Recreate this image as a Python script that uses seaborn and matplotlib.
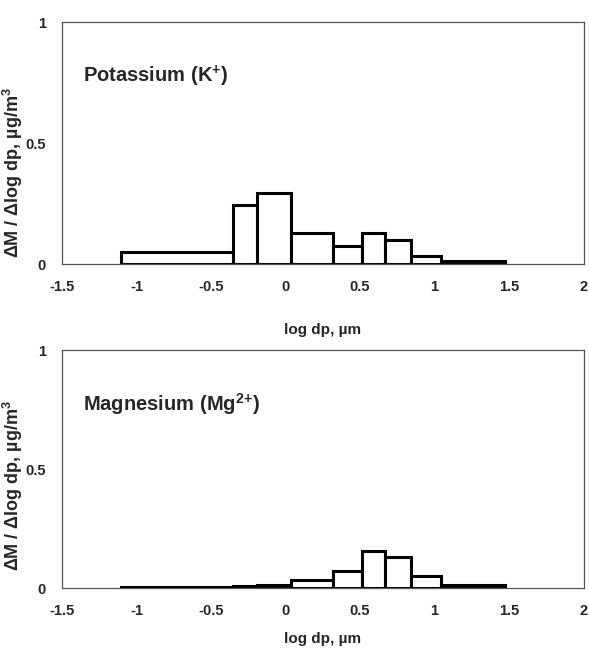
import matplotlib
matplotlib.use("Agg")
import matplotlib.pyplot as plt
import seaborn as sns

# bin edges (log dp) and bar heights
bin_edges = [-1.1, -0.35, -0.19, 0.04, 0.32, 0.51, 0.67, 0.84, 1.04, 1.47]
potassium = [0.051, 0.246, 0.295, 0.130, 0.076, 0.127, 0.100, 0.034, 0.012]
magnesium = [0.004, 0.010, 0.015, 0.035, 0.070, 0.157, 0.130, 0.049, 0.013]

panel_titles = [r"Potassium (K$^{+}$)", r"Magnesium (Mg$^{2}$$^{+}$)"]
x_ticks = [-1.5, -1, -0.5, 0, 0.5, 1, 1.5, 2]
x_tick_labels = ["-1.5", "-1", "-0.5", "0", "0.5", "1", "1.5", "2"]
y_ticks = [0, 0.5, 1]
y_tick_labels = ["0", "0.5", "1"]

sns.set_style("white")
plt.rcParams["font.family"] = ["Liberation Sans", "DejaVu Sans"]
plt.rcParams["font.weight"] = "bold"
plt.rcParams["mathtext.fontset"] = "custom"
plt.rcParams["mathtext.rm"] = "Liberation Sans:bold"
plt.rcParams["mathtext.it"] = "Liberation Sans:bold"
plt.rcParams["mathtext.bf"] = "Liberation Sans:bold"

fig = plt.figure(figsize=(5.89, 6.52), dpi=100)
ax_top = fig.add_axes([0.105, 0.595, 0.886, 0.371])
ax_bot = fig.add_axes([0.105, 0.098, 0.886, 0.365])

centers = [(a + b) / 2 for a, b in zip(bin_edges[:-1], bin_edges[1:])]

# x label pad and y label height differ a bit between the two panels
xlabel_pads = [21, 10]
ylabel_ys = [0.38, 0.43]

for ax, values, title, xpad, ly in zip([ax_top, ax_bot], [potassium, magnesium],
                                       panel_titles, xlabel_pads, ylabel_ys):
    sns.histplot(x=centers, weights=values, bins=bin_edges, stat="count",
                 color="white", edgecolor="black", linewidth=2.2, alpha=1,
                 ax=ax)
    ax.set_xlim(-1.5, 2)
    ax.set_ylim(0, 1)
    ax.set_xticks(x_ticks)
    ax.set_xticklabels(x_tick_labels, fontsize=10.5, fontweight="bold")
    ax.set_yticks(y_ticks)
    ax.set_yticklabels(y_tick_labels, fontsize=10.5, fontweight="bold")
    ax.tick_params(direction="inout", length=7, width=0.8, color="#555555", pad=8)
    for sp in ax.spines.values():
        sp.set_visible(True)
        sp.set_color("#555555")
        sp.set_linewidth(0.9)
    ax.set_xlabel("log dp, µm", fontsize=11, fontweight="bold", labelpad=xpad)
    ax.set_ylabel(r"ΔM / Δlog dp, µg/m$^{3}$", fontsize=13, fontweight="bold")
    ax.yaxis.set_label_coords(-0.071, ly)
    ax.text(0.04, 0.775, title, transform=ax.transAxes, fontsize=14.5,
            fontweight="bold", va="center", ha="left")

fig.savefig("out.png", dpi=100)
